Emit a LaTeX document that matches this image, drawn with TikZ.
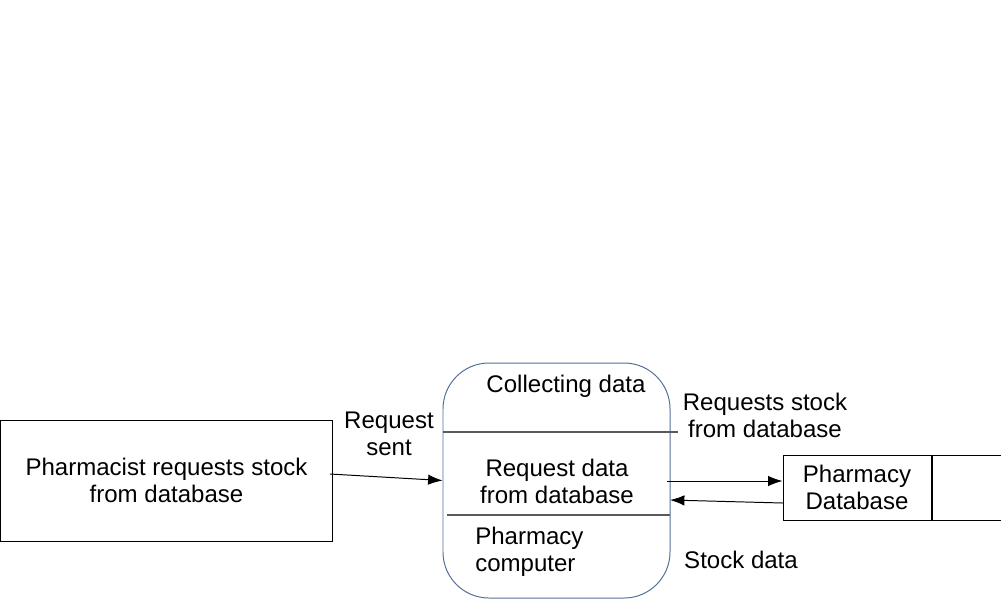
\documentclass[tikz,border=0pt]{standalone}
\usepackage{fontspec}
\setmainfont{Liberation Sans}
\usepackage{tikz}
\usetikzlibrary{arrows.meta}
\usetikzlibrary{positioning}
\definecolor{procblue}{RGB}{84,110,150}
\definecolor{divgray}{RGB}{90,90,90}

\begin{document}
\begin{tikzpicture}
	[
	x=0.25mm, y=-0.25mm,
	every node/.style={font=\fontsize{17.1}{19.3}\selectfont, inner sep=0pt},
  > = {Latex[length=3.6mm,width=2.6mm]},
  entity/.style = {draw, line width=0.7pt, minimum width=83mm, minimum height=30.25mm, align=center},
  process/.style = {draw=procblue, line width=0.7pt, rounded corners=11.5mm, minimum width=56.75mm, minimum height=58.75mm},
  store/.style = {draw, line width=0.7pt, minimum height=16.25mm, align=center},
  divider/.style = {draw=divgray, line width=0.8pt},
  flow/.style = {->, line width=0.7pt},
  label text/.style = {align=center}
  ]
	\useasboundingbox (0,0) rectangle (1001,601);

	\node[entity] (pharm) at (166.5,480.5) {Pharmacist requests stock\\from database};
	\node[process] (proc) at (556.5,480.5) {};
	\node[store, minimum width=37mm] (db) at (857,487.5) {Pharmacy\\Database};
	\node[store, minimum width=20mm, right=0pt of db] (dbtail) {};

	\node (collect) at (566,386) {Collecting data};
	\node[label text] (reqdata) at (557,481) {Request data\\from database};
	\node[align=left, anchor=west] (comp) at (475,552) {Pharmacy\\computer};

	\draw[divider] (443,432) -- (678,432);
	\draw[divider] (447,515) -- (670,515);

	\coordinate (reqout) at (330,474);
	\coordinate (askout) at (667,481);
	\coordinate (stockout) at (783,503);
	\coordinate (stockin) at (670,500);

	\draw[flow] (reqout) -- (proc.west);
	\draw[flow] (askout) -- (askout -| db.west);
	\draw[flow] (stockout) -- (stockin);

	\node[label text] (sent) at (389,434) {Request\\sent};
	\node[label text] (asks) at (765,415) {Requests stock\\from database};
	\node (stock) at (741,560) {Stock data};

\end{tikzpicture}
\end{document}
